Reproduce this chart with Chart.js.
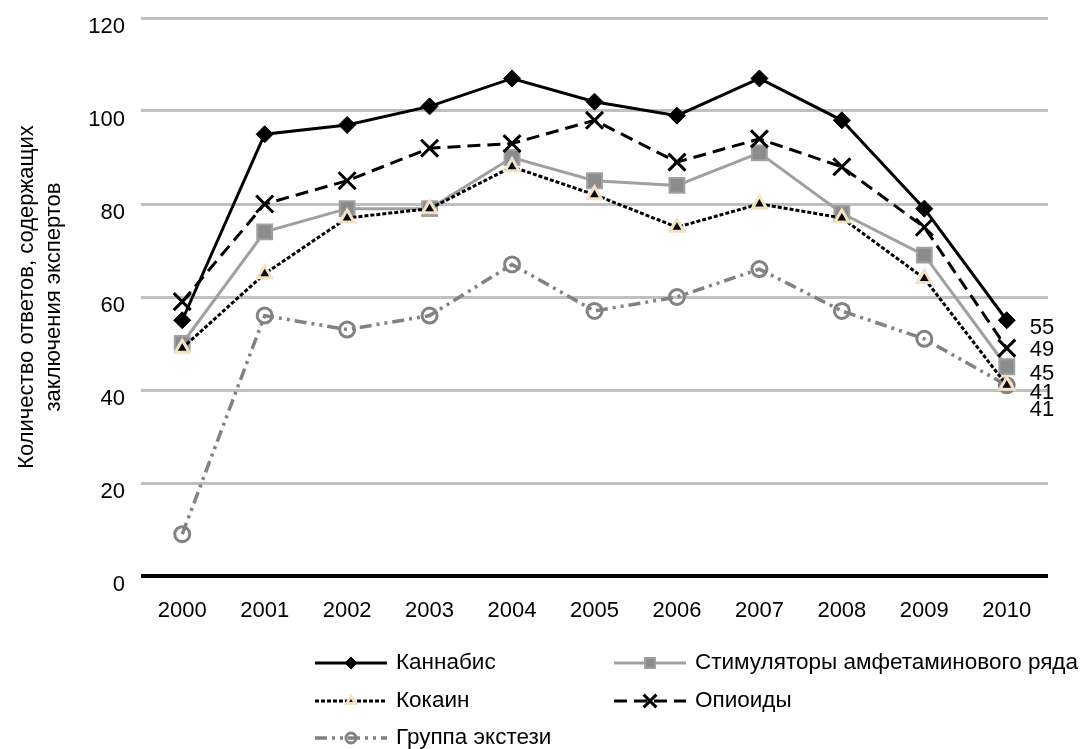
<!DOCTYPE html>
<html lang="ru">
<head>
<meta charset="utf-8">
<title>Количество ответов, содержащих заключения экспертов</title>
<script src="https://cdn.jsdelivr.net/npm/chart.js"></script>
<style>
  html, body { margin: 0; padding: 0; background: #fff; }
  canvas { display: block; }
</style>
</head>
<body>
<canvas id="drugs-chart" width="1085" height="749"></canvas>
<script>
// Годы и число ответов по каждой группе веществ
const YEARS = ['2000', '2001', '2002', '2003', '2004', '2005', '2006', '2007', '2008', '2009', '2010'];
const CANNABIS   = [55, 95, 97, 101, 107, 102, 99, 107, 98, 79, 55];
const STIMULANTS = [50, 74, 79, 79, 90, 85, 84, 91, 78, 69, 45];
const COCAINE    = [49, 65, 77, 79, 88, 82, 75, 80, 77, 64, 41];
const OPIOIDS    = [59, 80, 85, 92, 93, 98, 89, 94, 88, 75, 49];
const ECSTASY    = [9, 56, 53, 56, 67, 57, 60, 66, 57, 51, 41];
const Y_TICKS    = [0, 20, 40, 60, 80, 100, 120];

const FONT_FAMILY = '"Liberation Sans", Arial, sans-serif';
const FONT_SIZE = 22;

// места элементов легенды: две колонки, три строки
const LEGEND_SLOTS = [[315, 663], [614, 663], [315, 701], [614, 701], [315, 738]];
const LEGEND_LINE = 72;

/** Подписи значений у последней точки каждой линии */
const endLabels = {
    id: 'endLabels',
    afterDatasetsDraw(chart) {
        const ctx = chart.ctx;
        ctx.save();
        ctx.font = `${FONT_SIZE}px ${FONT_FAMILY}`;
        ctx.fillStyle = '#000';
        ctx.textAlign = 'left';
        ctx.textBaseline = 'middle';
        chart.data.datasets.forEach((ds, i) => {
            const meta = chart.getDatasetMeta(i);
            const last = meta.data.length - 1;
            const pt = meta.data[last];
            ctx.fillText(String(ds.data[last]), pt.x + 23, pt.y + (ds.endLabelShift || 0));
        });
        ctx.restore();
    }
};

/** Легенда в две колонки под осью X */
const gridLegend = {
    id: 'gridLegend',
    afterDraw(chart) {
        const ctx = chart.ctx;
        chart.data.datasets.forEach((ds, i) => {
            const [x, y] = LEGEND_SLOTS[i];
            ctx.save();
            ctx.strokeStyle = ds.borderColor;
            ctx.lineWidth = ds.borderWidth;
            ctx.setLineDash(ds.borderDash || []);
            ctx.beginPath();
            ctx.moveTo(x, y);
            ctx.lineTo(x + LEGEND_LINE, y);
            ctx.stroke();
            ctx.setLineDash([]);

            ctx.fillStyle = ds.pointBackgroundColor;
            ctx.strokeStyle = ds.pointBorderColor;
            ctx.lineWidth = ds.pointBorderWidth;
            Chart.helpers.drawPoint(ctx, {
                pointStyle: ds.pointStyle,
                radius: ds.legendPointRadius,
                rotation: 0,
                borderWidth: ds.pointBorderWidth
            }, x + LEGEND_LINE / 2, y);

            ctx.fillStyle = '#000';
            ctx.font = `${FONT_SIZE + 0.5}px ${FONT_FAMILY}`;
            ctx.textAlign = 'left';
            ctx.textBaseline = 'middle';
            ctx.fillText(ds.label, x + LEGEND_LINE + 9, y);
            ctx.restore();
        });
    }
};

Chart.defaults.font.family = FONT_FAMILY;
Chart.defaults.font.size = FONT_SIZE;
Chart.defaults.color = '#000';

const chartConfig = {
    type: 'line',
    data: {
        labels: YEARS,
        datasets: [{
            label: 'Каннабис',
            data: CANNABIS,
            borderColor: '#000',
            borderWidth: 3,
            pointStyle: 'rectRot',
            pointRadius: 8.5,
            pointBackgroundColor: '#000',
            pointBorderColor: '#000',
            pointBorderWidth: 1,
            legendPointRadius: 6,
            endLabelShift: 8,
            order: 1
        }, {
            label: 'Стимуляторы амфетаминового ряда',
            data: STIMULANTS,
            borderColor: '#a0a0a0',
            borderWidth: 3,
            pointStyle: 'rect',
            pointRadius: 10.5,
            pointBackgroundColor: '#8c8c8c',
            pointBorderColor: '#a0a0a0',
            pointBorderWidth: 2,
            legendPointRadius: 7,
            endLabelShift: 7,
            order: 3
        }, {
            label: 'Кокаин',
            data: COCAINE,
            borderColor: '#000',
            borderWidth: 3,
            borderDash: [4, 2],
            pointStyle: 'triangle',
            pointRadius: 8,
            pointBackgroundColor: '#000',
            pointBorderColor: '#f3e2c6',
            pointBorderWidth: 3,
            legendPointRadius: 5,
            endLabelShift: 8,
            order: 0
        }, {
            label: 'Опиоиды',
            data: OPIOIDS,
            borderColor: '#000',
            borderWidth: 3,
            borderDash: [13, 7],
            pointStyle: 'crossRot',
            pointRadius: 12,
            pointBackgroundColor: '#000',
            pointBorderColor: '#000',
            pointBorderWidth: 3,
            legendPointRadius: 9,
            endLabelShift: 2,
            order: 2
        }, {
            label: 'Группа экстези',
            data: ECSTASY,
            borderColor: '#828282',
            borderWidth: 3.5,
            borderDash: [12, 5, 3, 5, 3, 5],
            pointStyle: 'circle',
            pointRadius: 7.5,
            pointBackgroundColor: 'rgba(0,0,0,0)',
            pointBorderColor: '#828282',
            pointBorderWidth: 3,
            legendPointRadius: 5,
            endLabelShift: 25,
            order: 4
        }]
    },
    options: {
        responsive: false,
        animation: false,
        layout: { padding: { top: 18, right: 37, bottom: 113, left: 0 } },
        scales: {
            x: {
                offset: true,
                grid: { display: false },
                border: { display: false },
                ticks: { padding: 14, color: '#000' },
                afterFit(scale) {
                    scale.height = 60;
                    scale.paddingLeft = 0;
                    scale.paddingRight = 0;
                }
            },
            y: {
                min: Y_TICKS[0],
                max: Y_TICKS[Y_TICKS.length - 1],
                afterBuildTicks(scale) { scale.ticks = Y_TICKS.map(v => ({ value: v })); },
                grid: {
                    color: c => (c.tick && c.tick.value === 0) ? '#000' : '#c0c0c0',
                    lineWidth: c => (c.tick && c.tick.value === 0) ? 4 : 3,
                    drawTicks: false
                },
                border: { display: false },
                ticks: { padding: 16, labelOffset: 9, color: '#000' },
                title: {
                    display: true,
                    text: ['Количество ответов, содержащих', 'заключения экспертов'],
                    color: '#000',
                    padding: { top: 14, bottom: 0 }
                },
                afterFit(scale) {
                    scale.width = 141;
                    scale.paddingTop = 0;
                    scale.paddingBottom = 0;
                }
            }
        },
        plugins: {
            legend: { display: false },
            tooltip: { enabled: false }
        }
    },
    plugins: [endLabels, gridLegend]
};

const ctx = document.getElementById('drugs-chart').getContext('2d');
const drugsChart = new Chart(ctx, chartConfig);
</script>
</body>
</html>
